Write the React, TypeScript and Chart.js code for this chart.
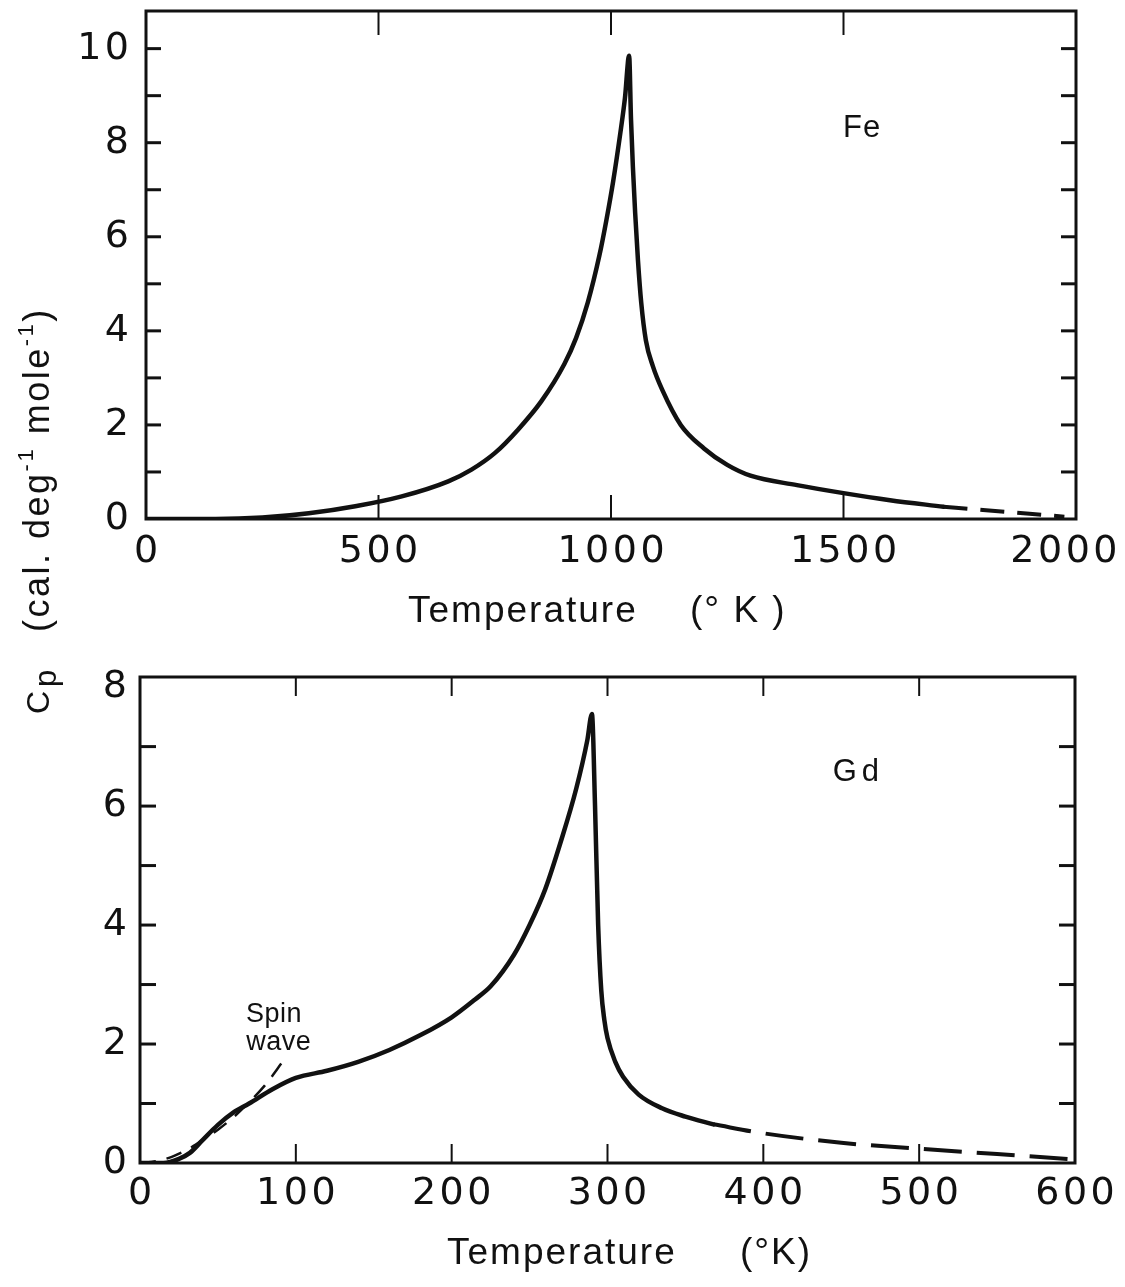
import React, { useEffect, useRef } from "react";
import { Chart, registerables } from "chart.js";

Chart.register(...registerables);

// ---------------- Fe (top panel) ----------------
const feSolidT = [0, 150, 250, 350, 450, 550, 650, 700, 750, 800, 850, 900, 925, 950, 975, 990, 1005, 1020, 1030, 1039, 1043, 1047, 1052, 1058, 1065, 1075, 1090, 1110, 1150, 1200, 1250, 1300, 1400, 1500, 1600, 1715];
const feSolidCp = [0, 0, 0.03, 0.12, 0.27, 0.48, 0.8, 1.05, 1.4, 1.9, 2.5, 3.3, 3.85, 4.6, 5.6, 6.35, 7.2, 8.2, 8.95, 9.85, 8.5, 7.5, 6.5, 5.5, 4.6, 3.8, 3.25, 2.75, 2.0, 1.5, 1.15, 0.92, 0.72, 0.55, 0.4, 0.26];
const feDashT = [1715, 1800, 1900, 1975];
const feDashCp = [0.26, 0.19, 0.11, 0.05];
const feXTickValues = [0, 500, 1000, 1500, 2000];
const feXTickLabels = ["0", "500", "1000", "1500", "2000"];
const feXInnerTicks = [500, 1000, 1500];
const feYTickValues = [0, 2, 4, 6, 8, 10];
const feYTickLabels = ["0", "2", "4", "6", "8", "10"];
const feYMinorTicks = [1, 2, 3, 4, 5, 6, 7, 8, 9, 10];

// ---------------- Gd (bottom panel) ----------------
const gdSolidT = [0, 15, 25, 32, 40, 50, 60, 70, 85, 100, 120, 140, 160, 180, 200, 215, 225, 240, 250, 260, 270, 280, 287, 290, 292, 294, 296, 298, 300, 305, 310, 320, 335, 350, 368];
const gdSolidCp = [0, 0, 0.07, 0.17, 0.38, 0.64, 0.85, 1.0, 1.24, 1.43, 1.55, 1.7, 1.9, 2.15, 2.45, 2.75, 2.97, 3.5, 4.0, 4.6, 5.4, 6.3, 7.1, 7.55, 6.0, 4.0, 2.9, 2.4, 2.1, 1.7, 1.45, 1.15, 0.92, 0.78, 0.65];
const gdDashT = [368, 400, 450, 500, 550, 600];
const gdDashCp = [0.65, 0.5, 0.34, 0.24, 0.15, 0.06];
const spinWaveT = [0, 10, 20, 30, 40, 50, 60, 70, 80, 92];
const spinWaveCp = [0, 0.03, 0.1, 0.22, 0.38, 0.56, 0.77, 1.02, 1.3, 1.72];
const gdXTickValues = [0, 100, 200, 300, 400, 500, 600];
const gdXTickLabels = ["0", "100", "200", "300", "400", "500", "600"];
const gdXInnerTicks = [100, 200, 300, 400, 500];
const gdYTickValues = [0, 2, 4, 6, 8];
const gdYTickLabels = ["0", "2", "4", "6", "8"];
const gdYMinorTicks = [1, 2, 3, 4, 5, 6, 7];

const INK = "#111";
const DIGIT_FONT = '"DejaVu Sans", "Liberation Sans", sans-serif';
const TEXT_FONT = '"Liberation Sans", "DejaVu Sans", sans-serif';

function pts(xs: number[], ys: number[]) {
  return xs.map((x, i) => ({ x, y: ys[i] }));
}

type Panel = {
  xLabelValues: number[];
  xLabels: string[];
  xInner: number[];
  yLabelValues: number[];
  yLabels: string[];
  yMinor: number[];
  xTickLen: number;
  yTickLen: number;
  yLabelRight: number;
  xLabelDy: number;
  titleX: number;
  unitX: number;
  unit: string;
  titleDy: number;
  extra: (chart: any) => void;
};

function line(ctx: any, x1: number, y1: number, x2: number, y2: number) {
  ctx.beginPath();
  ctx.moveTo(x1, y1);
  ctx.lineTo(x2, y2);
  ctx.stroke();
}

function panelPlugin(p: Panel) {
  return {
    id: "panelFrame",
    afterDraw(chart: any) {
      const ctx = chart.ctx;
      const a = chart.chartArea;
      const xs = chart.scales.x;
      const ys = chart.scales.y;
      ctx.save();
      ctx.strokeStyle = INK;
      ctx.fillStyle = INK;
      ctx.lineCap = "square";
      ctx.lineWidth = 3;
      ctx.strokeRect(a.left, a.top, a.right - a.left, a.bottom - a.top);
      ctx.lineCap = "butt";
      for (const v of p.yMinor) {
        const y = ys.getPixelForValue(v);
        if (y < a.top + 3) continue;
        line(ctx, a.left, y, a.left + p.yTickLen, y);
        line(ctx, a.right - p.yTickLen, y, a.right, y);
      }
      ctx.lineWidth = 2;
      for (const v of p.xInner) {
        const x = xs.getPixelForValue(v);
        line(ctx, x, a.bottom, x, a.bottom - p.xTickLen);
        line(ctx, x, a.top, x, a.top + p.xTickLen);
      }
      // tick labels
      const sp = 3.5;
      ctx.font = `38px ${DIGIT_FONT}`;
      (ctx as any).letterSpacing = `${sp}px`;
      ctx.textBaseline = "middle";
      ctx.textAlign = "center";
      p.xLabelValues.forEach((v, i) => {
        const s = p.xLabels[i];
        const w = ctx.measureText(s).width;
        let x = xs.getPixelForValue(v) + sp / 2;
        x = Math.min(x, chart.width - w / 2 - 4);
        ctx.fillText(s, x, a.bottom + p.xLabelDy);
      });
      ctx.textAlign = "right";
      p.yLabelValues.forEach((v, i) => {
        ctx.fillText(p.yLabels[i], p.yLabelRight + sp, ys.getPixelForValue(v));
      });
      // axis title
      ctx.font = `37px ${TEXT_FONT}`;
      (ctx as any).letterSpacing = "2px";
      ctx.textAlign = "left";
      ctx.textBaseline = "alphabetic";
      ctx.fillText("Temperature", p.titleX, a.bottom + p.titleDy);
      ctx.fillText(p.unit, p.unitX, a.bottom + p.titleDy);
      (ctx as any).letterSpacing = "0px";
      p.extra(chart);
      ctx.restore();
    },
  };
}

function baseOptions(xMax: number, yMax: number, pad: any) {
  return {
    responsive: false,
    animation: false as const,
    devicePixelRatio: 1,
    layout: { padding: pad },
    plugins: { legend: { display: false }, tooltip: { enabled: false } },
    events: [] as any[],
    scales: {
      x: { type: "linear" as const, min: 0, max: xMax, display: false },
      y: { type: "linear" as const, min: 0, max: yMax, display: false },
    },
  };
}

function solid(data: any[]) {
  return {
    data,
    borderColor: INK,
    borderWidth: 4.5,
    pointRadius: 0,
    fill: false,
    cubicInterpolationMode: "monotone" as const,
    borderJoinStyle: "round" as const,
    borderCapStyle: "round" as const,
  };
}

function dashed(data: any[], dash: number[], width: number) {
  return {
    data,
    borderColor: INK,
    borderWidth: width,
    borderDash: dash,
    pointRadius: 0,
    fill: false,
    cubicInterpolationMode: "monotone" as const,
    borderCapStyle: "butt" as const,
  };
}

function drawYTitle(ctx: any) {
  ctx.save();
  ctx.fillStyle = INK;
  ctx.textBaseline = "alphabetic";
  ctx.textAlign = "left";
  ctx.translate(49, 714);
  ctx.rotate(-Math.PI / 2);
  ctx.font = `32px ${TEXT_FONT}`;
  ctx.fillText("C", 0, 0);
  let cx = ctx.measureText("C").width + 4;
  ctx.font = `31px ${TEXT_FONT}`;
  ctx.fillText("p", cx, 7);
  // main part, starts at page y ~ 632
  cx = 714 - 632;
  (ctx as any).letterSpacing = "2.5px";
  const big = `36px ${TEXT_FONT}`;
  const sup = `22px ${TEXT_FONT}`;
  const parts: [string, string, number][] = [
    ["(cal. deg", big, 0],
    ["-1", sup, -16],
    [" mole", big, 0],
    ["-1", sup, -16],
    [")", big, 0],
  ];
  for (const [s, f, dy] of parts) {
    ctx.font = f;
    ctx.fillText(s, cx, dy);
    cx += ctx.measureText(s).width;
  }
  ctx.restore();
}

function feConfig(): any {
  return {
    type: "line",
    data: {
      datasets: [
        solid(pts(feSolidT, feSolidCp)),
        dashed(pts(feDashT, feDashCp), [24, 13], 4),
      ],
    },
    options: baseOptions(2000, 10.8, { left: 146, right: 49, top: 11, bottom: 760 - 519 }),
    plugins: [
      panelPlugin({
        xLabelValues: feXTickValues,
        xLabels: feXTickLabels,
        xInner: feXInnerTicks,
        yLabelValues: feYTickValues,
        yLabels: feYTickLabels,
        yMinor: feYMinorTicks,
        xTickLen: 24,
        yTickLen: 15,
        yLabelRight: 129,
        xLabelDy: 33,
        titleX: 408,
        unitX: 690,
        unit: "(° K )",
        titleDy: 103,
        extra: (chart: any) => {
          const ctx = chart.ctx;
          const xs = chart.scales.x;
          const ys = chart.scales.y;
          ctx.font = `31px ${TEXT_FONT}`;
          (ctx as any).letterSpacing = "1px";
          ctx.textAlign = "center";
          ctx.textBaseline = "middle";
          ctx.fillText("Fe", xs.getPixelForValue(1540), ys.getPixelForValue(8.3));
          (ctx as any).letterSpacing = "0px";
          drawYTitle(ctx);
        },
      }),
    ],
  };
}

function gdConfig(): any {
  return {
    type: "line",
    data: {
      datasets: [
        solid(pts(gdSolidT, gdSolidCp)),
        dashed(pts(gdDashT, gdDashCp), [38, 15], 4),
        dashed(pts(spinWaveT, spinWaveCp), [16, 11], 2.5),
      ],
    },
    options: baseOptions(600, 8.17, { left: 140, right: 50, top: 677 - 640, bottom: 647 - (1163 - 640) }),
    plugins: [
      panelPlugin({
        xLabelValues: gdXTickValues,
        xLabels: gdXTickLabels,
        xInner: gdXInnerTicks,
        yLabelValues: gdYTickValues,
        yLabels: gdYTickLabels,
        yMinor: gdYMinorTicks,
        xTickLen: 19,
        yTickLen: 16,
        yLabelRight: 127,
        xLabelDy: 31,
        titleX: 447,
        unitX: 740,
        unit: "(°K)",
        titleDy: 101,
        extra: (chart: any) => {
          const ctx = chart.ctx;
          const xs = chart.scales.x;
          const ys = chart.scales.y;
          ctx.font = `31px ${TEXT_FONT}`;
          (ctx as any).letterSpacing = "5px";
          ctx.textAlign = "center";
          ctx.textBaseline = "middle";
          ctx.fillText("Gd", xs.getPixelForValue(461), ys.getPixelForValue(6.57));
          ctx.font = `27px ${TEXT_FONT}`;
          (ctx as any).letterSpacing = "0.5px";
          ctx.fillText("Spin", xs.getPixelForValue(86), ys.getPixelForValue(2.49));
          ctx.fillText("wave", xs.getPixelForValue(89), ys.getPixelForValue(2.02));
          (ctx as any).letterSpacing = "0px";
        },
      }),
    ],
  };
}

export default function App() {
  const refA = useRef<HTMLCanvasElement>(null);
  const refB = useRef<HTMLCanvasElement>(null);
  useEffect(() => {
    const a = new Chart(refA.current as HTMLCanvasElement, feConfig());
    const b = new Chart(refB.current as HTMLCanvasElement, gdConfig());
    return () => {
      a.destroy();
      b.destroy();
    };
  }, []);
  return (
    <div style={{ position: "fixed", left: 0, top: 0, width: 1125, height: 1287, background: "#fff", overflow: "hidden" }}>
      <canvas ref={refA} width={1125} height={760} style={{ position: "absolute", left: 0, top: 0 }} />
      <canvas ref={refB} width={1125} height={647} style={{ position: "absolute", left: 0, top: 640 }} />
    </div>
  );
}
